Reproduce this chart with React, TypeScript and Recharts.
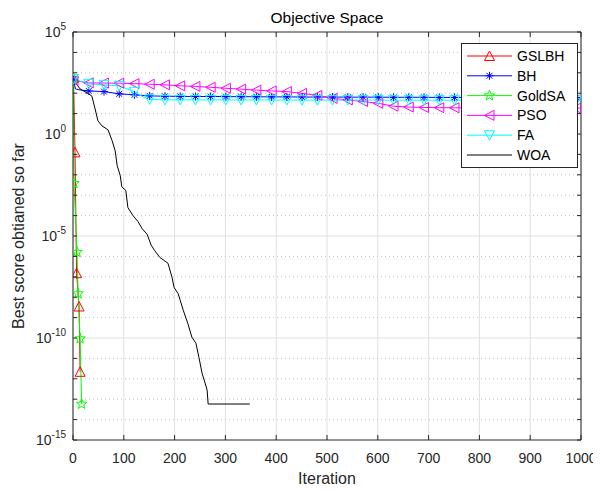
import React from 'react';
import {
  LineChart,
  Line,
  XAxis,
  YAxis,
  CartesianGrid,
  ReferenceLine,
  Legend,
  Label,
  Customized,
} from 'recharts';

// ---------------- data ----------------
const xTicks = [0, 100, 200, 300, 400, 500, 600, 700, 800, 900, 1000];
const yTicks = [
  1e-15, 1e-14, 1e-13, 1e-12, 1e-11, 1e-10, 1e-9, 1e-8, 1e-7, 1e-6, 1e-5,
  1e-4, 1e-3, 1e-2, 1e-1, 1, 1e1, 1e2, 1e3, 1e4, 1e5,
];

const gslbhIter = [1, 4, 7, 12, 14];
const gslbhVal = [550, 0.126, 1.5e-7, 3.5e-9, 2.2e-12];

const goldsaIter = [1, 2, 8, 10, 14, 17];
const goldsaVal = [500, 0.0038, 1.6e-6, 1.5e-8, 9.3e-11, 5.8e-14];

const bhIter = [1, 3, 5, 10, 20, 31, 61, 91, 121, 151, 181, 211, 241, 271, 301, 331, 361, 391, 421, 451, 481, 511, 541, 571, 601, 631, 661, 691, 721, 751, 781, 811, 841, 871, 901, 931, 961, 991, 1000];
const bhVal = [450, 250, 162, 150, 138, 129, 120, 93, 83, 74, 71, 70, 69, 69, 68, 67, 67, 66, 66, 65, 65, 65, 64, 64, 64, 63, 63, 63, 62, 62, 62, 61, 61, 61, 61, 60, 60, 60, 60];

const psoIter = [1, 31, 61, 91, 121, 151, 181, 211, 241, 271, 301, 331, 361, 391, 421, 451, 481, 511, 541, 571, 601, 631, 661, 691, 721, 751, 781, 811, 841, 871, 901, 931, 961, 991, 1000];
const psoVal = [420, 320, 315, 310, 295, 275, 257, 230, 214, 195, 174, 158, 141, 129, 120, 98, 78, 56, 47, 39, 32, 23, 21, 20, 19.5, 19.3, 19.2, 19.1, 19, 19, 18.9, 18.8, 18.8, 18.7, 18.7];

const faIter = [1, 31, 61, 91, 121, 136, 151, 181, 211, 241, 271, 301, 331, 361, 391, 421, 451, 481, 511, 541, 571, 601, 631, 661, 691, 721, 751, 781, 811, 841, 871, 901, 931, 961, 991, 1000];
const faVal = [500, 288, 257, 229, 117, 70, 50, 47, 47, 47, 47, 47, 46.5, 46.5, 46.5, 46.5, 46, 46, 46, 46, 46, 46, 45.5, 45.5, 45.5, 45.5, 45.5, 45.5, 45, 45, 45, 45, 45, 45, 45, 45];

const woaIter = [1, 14, 37, 43, 49, 57, 69, 77, 83, 87, 93, 96, 104, 108, 118, 128, 136, 146, 154, 161, 171, 187, 195, 199, 207, 217, 226, 234, 242, 248, 254, 260, 264, 266, 348];
const woaVal = [447, 162, 74, 19, 4.5, 2.5, 1.6, 0.47, 0.15, 0.028, 0.0091, 0.0026, 0.0017, 2.5e-4, 1.0e-4, 5.1e-5, 2.3e-5, 1.2e-5, 3.5e-6, 1.9e-6, 8.9e-7, 4.6e-7, 9.3e-8, 3.0e-8, 1.5e-8, 2.3e-9, 5.2e-10, 1.1e-10, 5.5e-11, 1.1e-11, 1.9e-12, 6.2e-13, 2.8e-13, 5.8e-14, 5.8e-14];

const seriesNames = ['GSLBH', 'BH', 'GoldSA', 'PSO', 'FA', 'WOA'];

// ---------------- layout / style ----------------
const W = 593;
const H = 482;
const PL = 65;
const PT = 24;
const PR = 573;
const PB = 432;
const AX = '#262626';
const FONT = '"Liberation Sans", Arial, Helvetica, sans-serif';

const COLORS: Record<string, string> = {
  GSLBH: '#ff0000',
  BH: '#0000ff',
  GoldSA: '#00ff00',
  PSO: '#ff00ff',
  FA: '#00ffff',
  WOA: '#000000',
};
const SHAPES: Record<string, string> = {
  GSLBH: 'up',
  BH: 'asterisk',
  GoldSA: 'star',
  PSO: 'left',
  FA: 'down',
  WOA: 'none',
};

const toPoints = (it: number[], v: number[]) => it.map((x, i) => ({ x, y: v[i] }));

const gslbhData = toPoints(gslbhIter, gslbhVal);
const goldsaData = toPoints(goldsaIter, goldsaVal);
const bhData = toPoints(bhIter, bhVal);
const psoData = toPoints(psoIter, psoVal);
const faData = toPoints(faIter, faVal);
const woaData = toPoints(woaIter, woaVal);

function Marker({ shape, cx, cy, color }: { shape: string; cx: number; cy: number; color: string }) {
  const common = { fill: 'none', stroke: color, strokeWidth: 1 };
  if (shape === 'up') {
    return <polygon {...common} points={`${cx},${cy - 5} ${cx - 5},${cy + 4.5} ${cx + 5},${cy + 4.5}`} />;
  }
  if (shape === 'down') {
    return <polygon {...common} points={`${cx},${cy + 5} ${cx - 5},${cy - 4.5} ${cx + 5},${cy - 4.5}`} />;
  }
  if (shape === 'left') {
    return <polygon {...common} points={`${cx - 5},${cy} ${cx + 4.5},${cy - 5} ${cx + 4.5},${cy + 5}`} />;
  }
  if (shape === 'asterisk') {
    const r = 4;
    const d = 2.9;
    return (
      <g {...common}>
        <line x1={cx} y1={cy - r} x2={cx} y2={cy + r} />
        <line x1={cx - r} y1={cy} x2={cx + r} y2={cy} />
        <line x1={cx - d} y1={cy - d} x2={cx + d} y2={cy + d} />
        <line x1={cx - d} y1={cy + d} x2={cx + d} y2={cy - d} />
      </g>
    );
  }
  if (shape === 'star') {
    const pts: string[] = [];
    for (let i = 0; i < 10; i++) {
      const a = ((-90 + i * 36) * Math.PI) / 180;
      const r = i % 2 === 0 ? 5.5 : 2.3;
      pts.push(`${cx + r * Math.cos(a)},${cy + r * Math.sin(a)}`);
    }
    return <polygon {...common} points={pts.join(' ')} />;
  }
  return null;
}

function makeDot(name: string, every: number) {
  const shape = SHAPES[name];
  const color = COLORS[name];
  return (p: any) => {
    const { cx, cy, index, payload } = p;
    const k = `${name}-dot-${index}`;
    if (cx == null || cy == null || shape === 'none') return <g key={k} />;
    if (every > 0 && ((payload.x - 1) % every !== 0 || payload.x > 991)) return <g key={k} />;
    return (
      <g key={k}>
        <Marker shape={shape} cx={cx} cy={cy} color={color} />
      </g>
    );
  };
}

function XTick(props: any) {
  const { x, payload } = props;
  return (
    <g>
      <line x1={x} x2={x} y1={PB} y2={PB - 5} stroke={AX} />
      <line x1={x} x2={x} y1={PT} y2={PT + 5} stroke={AX} />
      <text x={x} y={PB + 23} textAnchor="middle" fontSize={14} fontFamily={FONT} fill={AX}>
        {payload.value}
      </text>
    </g>
  );
}

function YTick(props: any) {
  const { y, payload } = props;
  const e = Math.round(Math.log10(payload.value));
  const major = e % 5 === 0;
  return (
    <g>
      <line x1={PL} x2={PL + 4} y1={y} y2={y} stroke={AX} />
      <line x1={PR} x2={PR - 4} y1={y} y2={y} stroke={AX} />
      {major && (
        <text x={PL - 7} y={y + 5} textAnchor="end" fontSize={14} fontFamily={FONT} fill={AX}>
          <tspan>10</tspan>
          <tspan fontSize={10} dy={-7}>{String(e)}</tspan>
        </text>
      )}
    </g>
  );
}

function Title() {
  return (
    <text x={(PL + PR) / 2} y={15} textAnchor="middle" fontSize={15.5} fontFamily={FONT} fill="#000">
      Objective Space
    </text>
  );
}

function LegendBox() {
  const rowH = 19.8;
  return (
    <svg width={117} height={125} style={{ display: 'block' }}>
      <rect x={0.5} y={0.5} width={116} height={124} fill="#fff" stroke={AX} strokeWidth={1} />
      {seriesNames.map((n, i) => {
        const cy = 13 + i * rowH;
        return (
          <g key={n}>
            <line x1={6} x2={51} y1={cy} y2={cy} stroke={COLORS[n]} strokeWidth={1} />
            <Marker shape={SHAPES[n]} cx={28.5} cy={cy} color={COLORS[n]} />
            <text x={56} y={cy + 5} fontSize={14} fontFamily={FONT} fill="#000">
              {n}
            </text>
          </g>
        );
      })}
    </svg>
  );
}

const minorExps = yTicks.filter((v) => {
  const e = Math.round(Math.log10(v));
  return e % 5 !== 0;
});
const majorInner = [1e-10, 1e-5, 1];

export default function App() {
  return (
    <div style={{ width: W, height: H, position: 'relative' }}>
      <LineChart width={W} height={H} margin={{ top: PT, right: W - PR, bottom: 20, left: 5 }}>
        <CartesianGrid horizontal={false} vertical stroke="#e0e0e0" />
        {majorInner.map((v) => (
          <ReferenceLine key={`maj-${v}`} y={v} stroke="#e0e0e0" strokeWidth={1} />
        ))}
        {minorExps.map((v) => (
          <ReferenceLine key={`min-${v}`} y={v} stroke="#c4c4c4" strokeWidth={1} strokeDasharray="1 3" />
        ))}
        <XAxis
          type="number"
          dataKey="x"
          domain={[0, 1000]}
          ticks={xTicks}
          interval={0}
          allowDataOverflow
          tickLine={false}
          axisLine={{ stroke: AX }}
          tick={<XTick />}
          height={30}
        >
          <Label
            content={() => (
              <text x={(PL + PR) / 2} y={476} textAnchor="middle" fontSize={16} fontFamily={FONT} fill={AX}>
                Iteration
              </text>
            )}
          />
        </XAxis>
        <YAxis
          type="number"
          scale="log"
          domain={[1e-15, 1e5]}
          ticks={yTicks}
          interval={0}
          allowDataOverflow
          tickLine={false}
          axisLine={{ stroke: AX }}
          tick={<YTick />}
          width={60}
        >
          <Label
            content={() => (
              <text
                x={16}
                y={(PT + PB) / 2}
                textAnchor="middle"
                fontSize={16}
                fontFamily={FONT}
                fill={AX}
                transform={`rotate(-90 16 ${(PT + PB) / 2})`}
              >
                Best score obtianed so far
              </text>
            )}
          />
        </YAxis>
        <ReferenceLine x={1000} stroke={AX} strokeWidth={1} />
        <ReferenceLine y={1e5} stroke={AX} strokeWidth={1} />
        <Line data={gslbhData} dataKey="y" name="GSLBH" stroke={COLORS.GSLBH} strokeWidth={1} dot={makeDot('GSLBH', 0)} activeDot={false} isAnimationActive={false} />
        <Line data={bhData} dataKey="y" name="BH" stroke={COLORS.BH} strokeWidth={1} dot={makeDot('BH', 30)} activeDot={false} isAnimationActive={false} />
        <Line data={goldsaData} dataKey="y" name="GoldSA" stroke={COLORS.GoldSA} strokeWidth={1} dot={makeDot('GoldSA', 0)} activeDot={false} isAnimationActive={false} />
        <Line data={psoData} dataKey="y" name="PSO" stroke={COLORS.PSO} strokeWidth={1} dot={makeDot('PSO', 30)} activeDot={false} isAnimationActive={false} />
        <Line data={faData} dataKey="y" name="FA" stroke={COLORS.FA} strokeWidth={1} dot={makeDot('FA', 30)} activeDot={false} isAnimationActive={false} />
        <Line data={woaData} dataKey="y" name="WOA" stroke={COLORS.WOA} strokeWidth={1} dot={false} activeDot={false} isAnimationActive={false} />
        <Customized component={Title} />
        <Legend
          layout="vertical"
          align="center"
          verticalAlign="middle"
          content={() => <LegendBox />}
          wrapperStyle={{ position: 'absolute', left: 453, top: 35, width: 117, height: 125 }}
        />
      </LineChart>
    </div>
  );
}
